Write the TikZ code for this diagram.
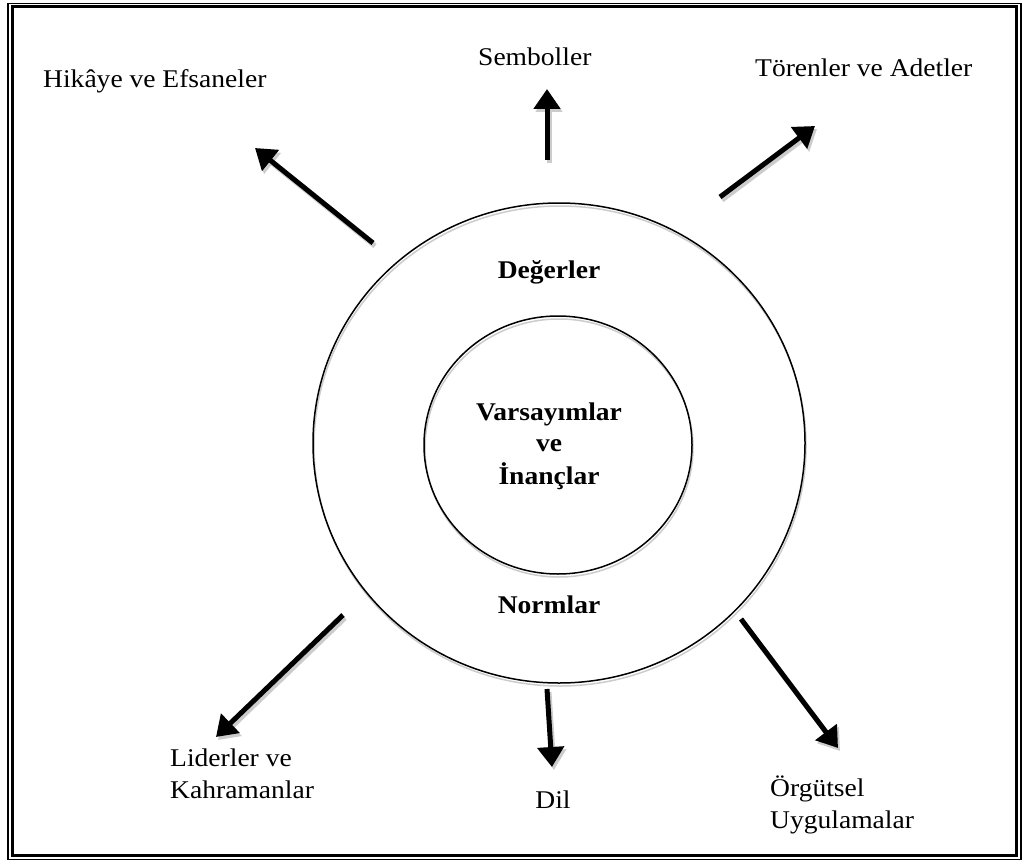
\documentclass[tikz,border=0pt]{standalone}
\usepackage{fontspec}
\setmainfont{Liberation Serif}[FakeStretch=1.08]
\usetikzlibrary{arrows.meta,shapes.geometric}

\tikzset{
  lbl/.style={inner sep=0pt, font=\fontsize{25.5}{32}\selectfont},
  blbl/.style={lbl, font=\fontsize{25.5}{32}\selectfont\bfseries},
  ring/.style={ellipse, draw=black, line width=1.5pt, inner sep=0pt},
  ringshadow/.style={ellipse, draw=black!20, line width=1.5pt, inner sep=0pt},
  outarrow/.style={line width=5pt, -{Triangle[width=26pt,length=20pt]}},
  arrowshadow/.style={outarrow, draw=black!20, fill=black!20},
}

\begin{document}
\begin{tikzpicture}[x=1pt,y=-1pt]
\useasboundingbox (0,0) rectangle (1028,864);
\fill[white] (0,0) rectangle (1028,864);

% double frame
\draw[line width=1.6pt] (8,3.5) rectangle (1021,859.5);
\draw[line width=3pt] (12.5,6.5) rectangle (1016.5,855.5);

% rings (shadow first)
\node[ringshadow, minimum width=492pt, minimum height=480pt] at (560,446) {};
\node[ringshadow, minimum width=268pt, minimum height=258pt] at (559,448) {};
\node[ring, minimum width=492pt, minimum height=480pt] (outer) at (559,443) {};
\node[ring, minimum width=268pt, minimum height=258pt] (inner) at (558,445) {};

% ring labels
\node[blbl, anchor=base] (deger) at (549,278) {Değerler};
\node[blbl, anchor=base] (varsa) at (549,420) {Varsayımlar};
\node[blbl, anchor=base] (ve) at (549,451) {ve};
\node[blbl, anchor=base] (inanc) at (549,484) {İnançlar};
\node[blbl, anchor=base] (norm) at (549,613) {Normlar};

% outer labels
\node[lbl, anchor=base west] (hikaye) at (43,88) {Hikâye ve Efsaneler};
\node[lbl, anchor=base west] (sembol) at (478,66) {Semboller};
\node[lbl, anchor=base west] (toren) at (755,77) {Törenler ve Adetler};
\node[lbl, anchor=base west] (lider1) at (170,766) {Liderler ve};
\node[lbl, anchor=base west] (lider2) at (170,798) {Kahramanlar};
\node[lbl, anchor=base] (dil) at (553,808) {Dil};
\node[lbl, anchor=base west] (orgut1) at (770,796) {Örgütsel};
\node[lbl, anchor=base west] (orgut2) at (770,828) {Uygulamalar};

% arrow end points
\coordinate (a1s) at (373,243); \coordinate (a1e) at (255,148);
\coordinate (a2s) at (547,160); \coordinate (a2e) at (547,89);
\coordinate (a3s) at (720,197); \coordinate (a3e) at (815,126);
\coordinate (a4s) at (343,615); \coordinate (a4e) at (216,737);
\coordinate (a5s) at (547,689); \coordinate (a5e) at (552,767);
\coordinate (a6s) at (741,619); \coordinate (a6e) at (838,748);

% arrow shadows
\foreach \s/\e in {a1s/a1e,a2s/a2e,a3s/a3e,a4s/a4e,a5s/a5e,a6s/a6e}
  \draw[arrowshadow] ([shift={(2,3)}]\s) -- ([shift={(2,3)}]\e);
% arrows
\foreach \s/\e in {a1s/a1e,a2s/a2e,a3s/a3e,a4s/a4e,a5s/a5e,a6s/a6e}
  \draw[outarrow] (\s) -- (\e);
\end{tikzpicture}
\end{document}
